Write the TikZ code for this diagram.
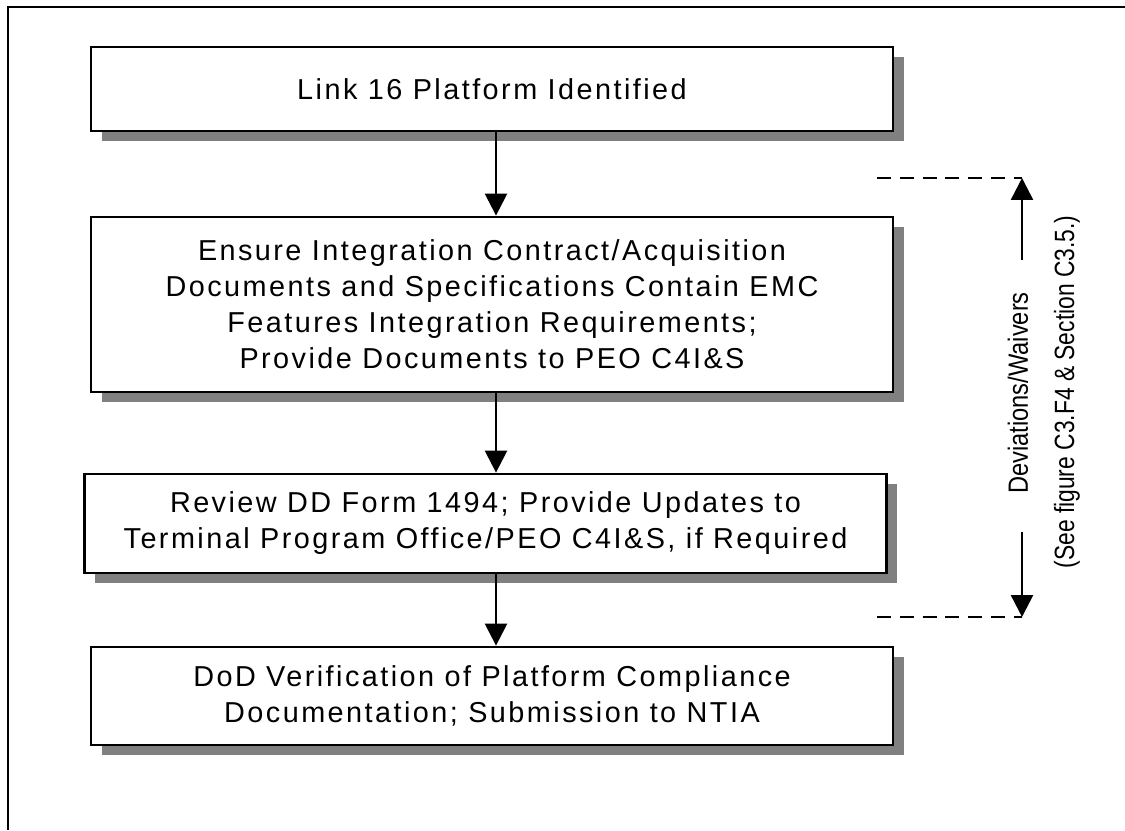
\documentclass[tikz,border=0pt]{standalone}
\usepackage{fontspec}
\setmainfont{Liberation Sans}
\newfontfamily\boxfont[LetterSpace=8.5]{Liberation Sans}
\usetikzlibrary{arrows.meta,shadows}
\begin{document}
\begin{tikzpicture}[
        stepbox/.style={draw,line width=2pt,fill=white,align=center,
            minimum width=20.05cm,inner sep=0pt,
            font=\boxfont\fontsize{20.5}{25.6}\selectfont,
            drop shadow={shadow xshift=0.27cm,shadow yshift=-0.25cm,
                fill=black!50,opacity=1}},
        flow/.style={line width=1.8pt,-{Triangle[width=0.55cm,length=0.55cm]}},
        side/.style={rotate=90,font=\fontsize{19.8}{22}\selectfont}]
\useasboundingbox (0,0) rectangle (28.125,20.75);
% frame
\draw[line width=1.2pt] (0.2,0) -- (0.2,20.575) -- (28.125,20.575);

\node[stepbox,minimum height=2.1cm] (ident) at (12.3,18.525)
    {Link 16 Platform Identified};
\node[stepbox,minimum height=4.375cm] (ensure) at (12.3,13.1375)
    {Ensure Integration Contract/Acquisition\\
     Documents and Specifications Contain EMC\\
     Features Integration Requirements;\\
     Provide Documents to PEO C4I\&S};
\node[stepbox,minimum height=2.475cm] (review) at (12.1375,7.6625)
    {Review DD Form 1494; Provide Updates to\\
     Terminal Program Office/PEO C4I\&S, if Required};
\node[stepbox,minimum height=2.45cm] (verify) at (12.3,3.35)
    {DoD Verification of Platform Compliance\\
     Documentation; Submission to NTIA};

\coordinate (ax) at (12.4,0);
\draw[flow] (ident.south -| ax) -- (ensure.north -| ax);
\draw[flow] (ensure.south -| ax) -- (review.north -| ax);
\draw[flow] (review.south -| ax) -- (verify.north -| ax);

% deviations / waivers
\coordinate (devtop) at (25.55,16.3);
\coordinate (devbot) at (25.55,5.325);
\draw[line width=1.2pt,dash pattern=on 0.35cm off 0.22cm] (21.925,16.3) -- (devtop);
\draw[line width=1.2pt,dash pattern=on 0.35cm off 0.22cm] (21.925,5.325) -- (devbot);
\node[side] (dev) at (25.45,10.925) {\scalebox{0.85}[1]{Deviations/Waivers}};
\node[side] (see) at (26.675,10.95) {\scalebox{0.82}[1]{(See figure C3.F4 \& Section C3.5.)}};
\coordinate (devup) at (25.55,14.25);
\coordinate (devdn) at (25.55,7.45);
\draw[flow] (devup) -- (devtop);
\draw[flow] (devdn) -- (devbot);
\end{tikzpicture}
\end{document}
